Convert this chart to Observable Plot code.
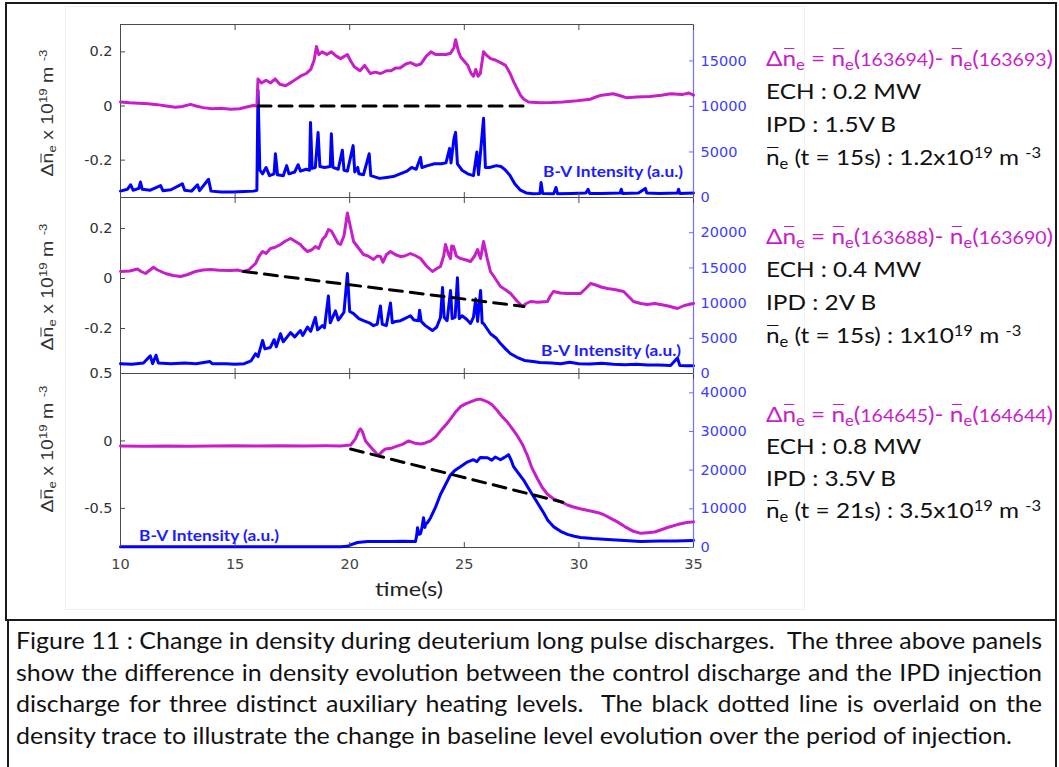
<!DOCTYPE html>
<html><head><meta charset="utf-8">
<script src="https://cdn.jsdelivr.net/npm/d3@7"></script>
<script src="https://cdn.jsdelivr.net/npm/@observablehq/plot@0.6"></script>
<style>
body{margin:0;background:#fff;}
#fig{position:relative;width:1059px;height:767px;overflow:hidden;background:#fff;font-family:Lato,sans-serif;}
.abs{position:absolute;white-space:nowrap;line-height:1;}
.box{position:absolute;box-sizing:border-box;}
sub{font-size:0.68em;line-height:0;vertical-align:-0.28em;}
sup{font-size:0.68em;line-height:0;vertical-align:0.5em;}
.ov{position:relative;}
.ov::before{content:"";position:absolute;left:0.06em;right:0.06em;top:0.16em;border-top:0.075em solid currentColor;}
.small{font-size:0.8em;}
.ann{position:absolute;left:766px;font-size:21.5px;color:#111;white-space:nowrap;line-height:1;transform-origin:left top;}
.mag{color:#c81ec8;}
.bv{position:absolute;font-weight:700;color:#1c1cff;font-size:15.5px;white-space:nowrap;line-height:1;transform-origin:left top;}
.ylab{position:absolute;font-family:"Liberation Sans",Arial,sans-serif;font-size:17px;color:#333;white-space:nowrap;line-height:1;}
.cap{position:absolute;left:16px;color:#111;white-space:pre;line-height:1;transform-origin:left top;}
.just{text-align:justify;text-align-last:justify;}
</style></head><body><div id="fig"></div>
<script>
// ---------- shared axis data ----------
const timeDomain = [10, 35];
const xTicks = [10, 15, 20, 25, 30, 35];

// ---------- panel 1 ----------
const p1LeftDomain = [-0.338, 0.301];
const p1RightDomain = [0, 19000];
const p1LeftTicks = [-0.2, 0, 0.2];
const p1RightTicks = [0, 5000, 10000, 15000];
const p1Density = [[10.0,0.015],[10.4,0.012],[10.8,0.010],[11.2,0.008],[11.6,0.005],[12.0,0.000],[12.4,-0.005],[12.7,-0.002],[13.05,0.006],[13.3,0.000],[13.6,-0.006],[14.0,-0.010],[14.4,-0.008],[14.8,-0.012],[15.2,-0.010],[15.5,-0.004],[15.8,0.002],[15.95,0.000],[16.0,0.10],[16.15,0.085],[16.35,0.095],[16.55,0.085],[16.75,0.10],[16.95,0.08],[17.2,0.075],[17.5,0.09],[17.85,0.11],[18.1,0.12],[18.3,0.135],[18.45,0.17],[18.55,0.22],[18.65,0.19],[18.8,0.20],[19.0,0.19],[19.2,0.20],[19.4,0.185],[19.6,0.175],[19.9,0.19],[20.05,0.165],[20.2,0.145],[20.45,0.13],[20.65,0.15],[20.9,0.12],[21.1,0.125],[21.35,0.12],[21.6,0.13],[21.8,0.13],[22.0,0.14],[22.2,0.14],[22.45,0.155],[22.65,0.16],[22.9,0.15],[23.1,0.155],[23.35,0.185],[23.55,0.20],[23.75,0.19],[23.95,0.19],[24.2,0.19],[24.4,0.195],[24.55,0.215],[24.62,0.245],[24.75,0.20],[24.85,0.18],[25.0,0.165],[25.15,0.15],[25.3,0.12],[25.4,0.11],[25.5,0.135],[25.6,0.11],[25.7,0.12],[25.84,0.20],[26.0,0.185],[26.15,0.175],[26.35,0.17],[26.58,0.16],[26.8,0.15],[27.0,0.12],[27.15,0.09],[27.3,0.065],[27.45,0.04],[27.6,0.025],[27.8,0.015],[28.3,0.012],[28.8,0.013],[29.3,0.015],[29.8,0.018],[30.2,0.022],[30.5,0.025],[30.8,0.035],[31.0,0.04],[31.5,0.045],[31.8,0.038],[32.1,0.03],[32.5,0.033],[33.1,0.035],[33.6,0.04],[34.0,0.045],[34.5,0.042],[34.8,0.048],[35.0,0.04]];
const p1Intensity = [[10.0,700],[10.3,900],[10.44,1400],[10.55,800],[10.8,1000],[10.87,1700],[10.95,900],[11.3,800],[11.75,1300],[11.85,750],[12.2,850],[12.7,1500],[12.8,800],[13.1,700],[13.36,1400],[13.45,750],[13.84,2000],[13.95,700],[14.4,600],[14.9,600],[15.4,650],[15.8,700],[15.95,800],[16.0,11800],[16.08,3000],[16.2,2600],[16.35,3300],[16.5,2400],[16.7,2600],[16.76,4800],[16.85,2500],[17.1,2400],[17.25,3500],[17.35,2600],[17.6,2800],[17.75,3600],[17.85,2900],[18.1,3100],[18.25,3000],[18.29,8250],[18.36,3200],[18.5,3300],[18.62,7150],[18.7,3400],[18.9,3300],[19.15,3400],[19.2,7000],[19.27,3300],[19.5,3100],[19.68,5200],[19.75,3000],[19.9,2900],[20.15,5700],[20.22,2800],[20.35,3300],[20.4,2600],[20.6,2500],[20.85,4800],[20.92,2400],[21.3,2100],[21.6,2200],[21.9,2300],[22.2,2600],[22.5,2900],[22.7,3300],[22.9,3100],[23.09,4400],[23.15,3300],[23.4,3500],[23.7,3700],[24.0,3700],[24.2,3800],[24.36,5400],[24.42,3800],[24.55,6500],[24.62,7150],[24.7,3700],[24.9,3000],[25.15,2600],[25.4,2400],[25.55,5000],[25.62,2500],[25.84,8700],[25.92,3300],[26.1,3300],[26.4,3500],[26.6,3400],[26.8,3000],[27.0,2400],[27.2,1500],[27.45,800],[27.7,500],[28.0,400],[28.3,450],[28.35,1650],[28.42,450],[28.9,400],[29.0,1100],[29.07,400],[29.7,450],[30.3,500],[30.4,900],[30.47,450],[31.0,450],[31.8,500],[31.85,900],[31.9,450],[32.6,500],[32.9,1000],[32.96,500],[33.5,450],[34.3,500],[34.35,900],[34.4,450],[35.0,500]];
const p1Baseline = [[16.0,0.0],[27.6,0.0]];

// ---------- panel 2 ----------
const p2LeftDomain = [-0.38, 0.324];
const p2RightDomain = [0, 25000];
const p2LeftTicks = [-0.2, 0, 0.2];
const p2RightTicks = [0, 5000, 10000, 15000, 20000];
const p2Density = [[10.0,0.028],[10.4,0.03],[10.74,0.038],[10.9,0.028],[11.09,0.02],[11.3,0.035],[11.44,0.045],[11.6,0.035],[11.96,0.02],[12.3,0.012],[12.62,0.008],[12.9,0.015],[13.27,0.028],[13.6,0.034],[13.93,0.036],[14.3,0.033],[14.8,0.032],[15.1,0.034],[15.37,0.028],[15.6,0.035],[15.89,0.06],[16.05,0.09],[16.2,0.108],[16.35,0.10],[16.54,0.12],[16.75,0.125],[16.98,0.136],[17.2,0.15],[17.42,0.16],[17.6,0.15],[17.85,0.136],[18.0,0.12],[18.16,0.108],[18.35,0.115],[18.5,0.128],[18.65,0.12],[18.81,0.156],[18.95,0.17],[19.07,0.196],[19.2,0.19],[19.38,0.16],[19.5,0.14],[19.6,0.136],[19.75,0.17],[19.9,0.262],[20.0,0.22],[20.17,0.148],[20.4,0.12],[20.6,0.096],[20.8,0.09],[21.04,0.076],[21.2,0.09],[21.34,0.088],[21.45,0.065],[21.6,0.095],[21.78,0.108],[22.0,0.095],[22.22,0.088],[22.4,0.09],[22.65,0.10],[22.9,0.09],[23.09,0.08],[23.35,0.05],[23.61,0.028],[23.8,0.04],[23.96,0.048],[24.1,0.09],[24.18,0.136],[24.3,0.1],[24.4,0.08],[24.45,0.13],[24.53,0.128],[24.65,0.09],[24.83,0.08],[25.05,0.075],[25.27,0.068],[25.45,0.09],[25.58,0.116],[25.71,0.08],[25.84,0.148],[26.0,0.08],[26.14,0.028],[26.35,0.0],[26.58,-0.032],[26.8,-0.045],[27.02,-0.06],[27.3,-0.09],[27.54,-0.112],[27.7,-0.1],[27.89,-0.092],[28.2,-0.095],[28.63,-0.092],[28.75,-0.07],[28.89,-0.052],[29.2,-0.058],[29.5,-0.06],[29.8,-0.06],[30.07,-0.06],[30.3,-0.04],[30.51,-0.02],[30.7,-0.025],[31.0,-0.035],[31.25,-0.04],[31.6,-0.045],[31.95,-0.052],[32.2,-0.075],[32.38,-0.092],[32.7,-0.1],[32.99,-0.104],[33.3,-0.1],[33.56,-0.104],[33.9,-0.11],[34.3,-0.12],[34.6,-0.108],[35.0,-0.1]];
const p2Intensity = [[10.0,1400],[10.5,1300],[11.0,1500],[11.3,2500],[11.4,1400],[11.55,2600],[11.65,1500],[12.2,1400],[12.8,1500],[13.3,1400],[13.9,1700],[14.0,1400],[14.6,1400],[15.0,1300],[15.4,1400],[15.7,1800],[15.89,2800],[16.0,2400],[16.2,4700],[16.3,3500],[16.54,3700],[16.7,4800],[16.8,3800],[16.98,5650],[17.1,4500],[17.42,5800],[17.6,5200],[17.85,6100],[17.95,5400],[18.16,6600],[18.3,6000],[18.5,7950],[18.6,6200],[18.81,6800],[18.9,6500],[19.07,11000],[19.15,7200],[19.38,8900],[19.5,7600],[19.6,8000],[19.75,8700],[19.9,14200],[20.0,8800],[20.17,8500],[20.4,7800],[20.6,7500],[20.85,7200],[21.04,6800],[21.2,7000],[21.34,9600],[21.42,7000],[21.6,6800],[21.78,10000],[21.86,7200],[22.0,7400],[22.22,7500],[22.4,7800],[22.65,8200],[22.8,7600],[23.0,7500],[23.05,9000],[23.12,7400],[23.3,6800],[23.61,6100],[23.8,6600],[23.96,7950],[24.05,12200],[24.12,8000],[24.25,7500],[24.4,11800],[24.47,7800],[24.6,8000],[24.7,13600],[24.78,7800],[24.9,8200],[25.1,7700],[25.27,7100],[25.4,8000],[25.5,10600],[25.58,7400],[25.71,11800],[25.78,7200],[25.84,7100],[26.14,5650],[26.4,5000],[26.58,4250],[26.8,3500],[27.02,2800],[27.3,2300],[27.62,1850],[28.0,1700],[28.3,1550],[28.8,1500],[29.2,1400],[29.6,1600],[30.0,1400],[30.5,1350],[31.0,1450],[31.5,1300],[32.0,1250],[32.5,1300],[33.0,1200],[33.5,1200],[34.0,1150],[34.3,2200],[34.4,1150],[34.7,1100],[35.0,1100]];
const p2Baseline = [[15.37,0.028],[27.6,-0.112]];

// ---------- panel 3 ----------
const p3LeftDomain = [-0.79, 0.5];
const p3RightDomain = [0, 45000];
const p3LeftTicks = [-0.5, 0, 0.5];
const p3RightTicks = [0, 10000, 20000, 30000, 40000];
const p3Density = [[10.0,-0.037],[11.0,-0.04],[12.0,-0.037],[13.0,-0.04],[14.0,-0.037],[15.0,-0.035],[16.0,-0.037],[17.0,-0.035],[18.0,-0.037],[19.0,-0.036],[19.6,-0.037],[20.04,-0.03],[20.25,0.015],[20.4,0.075],[20.47,0.09],[20.55,0.07],[20.69,0.0],[20.99,-0.06],[21.26,-0.11],[21.4,-0.08],[21.56,-0.06],[21.8,-0.055],[22.09,-0.037],[22.3,-0.025],[22.57,0.0],[22.8,-0.015],[23.09,-0.022],[23.3,-0.015],[23.53,0.0],[23.75,0.03],[23.96,0.075],[24.2,0.12],[24.4,0.164],[24.6,0.21],[24.83,0.254],[25.05,0.275],[25.27,0.29],[25.5,0.305],[25.71,0.31],[26.01,0.29],[26.2,0.27],[26.45,0.224],[26.65,0.18],[26.88,0.14],[27.1,0.09],[27.32,0.037],[27.55,-0.03],[27.76,-0.11],[27.95,-0.2],[28.19,-0.28],[28.4,-0.345],[28.63,-0.395],[28.9,-0.43],[29.2,-0.45],[29.5,-0.475],[29.76,-0.49],[30.1,-0.505],[30.51,-0.52],[30.8,-0.53],[31.07,-0.545],[31.35,-0.57],[31.68,-0.6],[32.0,-0.635],[32.38,-0.67],[32.7,-0.685],[32.99,-0.68],[33.3,-0.675],[33.56,-0.66],[33.9,-0.64],[34.3,-0.62],[34.7,-0.605],[35.0,-0.6]];
const p3Intensity = [[10.0,200],[12.0,200],[14.0,200],[16.0,200],[18.0,200],[19.6,200],[19.9,300],[20.1,800],[20.34,1300],[20.78,1550],[21.3,1550],[21.78,1550],[22.3,1600],[22.87,1550],[22.92,3000],[22.96,5100],[23.02,3400],[23.09,3600],[23.15,5000],[23.22,7700],[23.28,5200],[23.31,6000],[23.4,6500],[23.53,7700],[23.75,10500],[23.96,13700],[24.2,16500],[24.4,18800],[24.6,20000],[24.83,20900],[25.1,22000],[25.4,22700],[25.55,22200],[25.7,23300],[26.01,23200],[26.2,22600],[26.35,23400],[26.58,22700],[26.75,23300],[26.93,24000],[27.05,22500],[27.15,20900],[27.35,19300],[27.58,17500],[27.8,15300],[28.02,13200],[28.25,11000],[28.46,9000],[28.65,7000],[28.89,5400],[29.2,4200],[29.5,3400],[29.8,2900],[30.07,2600],[30.6,2300],[31.25,2100],[32.0,1800],[32.69,1550],[33.5,1650],[34.2,1700],[35.0,1800]];
const p3Baseline = [[20.04,-0.06],[29.3,-0.455]];

// ---------- annotation texts ----------
const shots = [["163694","163693"],["163688","163690"],["164645","164644"]];
const ech = ["0.2 MW","0.4 MW","0.8 MW"];
const ipd = ["1.5V B","2V B","3.5V B"];
const neRef = [["15s","1.2"],["15s","1"],["21s","3.5"]];
const captionLines = [
  "Figure 11 : Change in density during deuterium long pulse discharges.  The three above panels",
  "show the difference in density evolution between the control discharge and the IPD injection",
  "discharge for three distinct auxiliary heating levels.  The black dotted line is overlaid on the",
  "density trace to illustrate the change in baseline level evolution over the period of injection."
];

// ---------- styling / layout ----------
const MAG = "#c81ec8", BLUE = "#0000ff", AXBLUE = "#7070ff", LBLUE = "#3c3cff", GREY = "#4a4a4a";
const X0 = 120, X1 = 693, SVGW = 760;
const fig = document.getElementById("fig");
const fmt = d => String(d);

const panels = [
  {top:24, bottom:197, left:p1LeftDomain, right:p1RightDomain, lt:p1LeftTicks, rt:p1RightTicks, dens:p1Density, inten:p1Intensity, base:p1Baseline, last:false},
  {top:197, bottom:373, left:p2LeftDomain, right:p2RightDomain, lt:p2LeftTicks, rt:p2RightTicks, dens:p2Density, inten:p2Intensity, base:p2Baseline, last:false},
  {top:373, bottom:547, left:p3LeftDomain, right:p3RightDomain, lt:p3LeftTicks, rt:p3RightTicks, dens:p3Density, inten:p3Intensity, base:p3Baseline, last:true}
];

function place(svg, top) {
  svg.style.position = "absolute";
  svg.style.left = "0px";
  svg.style.top = top + "px";
  fig.appendChild(svg);
}
function box(l, t, w, h, css) {
  const d = document.createElement("div");
  d.className = "box";
  Object.assign(d.style, {left:l+"px", top:t+"px", width:w+"px", height:h+"px"}, css);
  fig.appendChild(d);
}
box(65, 6, 740, 604, {border:"1px solid #f0f0f0"});

for (const p of panels) {
  const mt = 20, mb = p.last ? 50 : 20;
  const common = {
    width: SVGW, height: p.bottom - p.top + mt + mb,
    marginLeft: X0, marginRight: SVGW - X1, marginTop: mt, marginBottom: mb,
    x: {domain: timeDomain, axis: null},
    style: {background: "transparent", overflow: "visible", fontFamily: "DejaVu Sans", fontSize: "14.5px"}
  };
  const back = Plot.plot({
    ...common,
    y: {domain: p.right, axis: null},
    marks: [
      Plot.frame({stroke: GREY, strokeWidth: 1}),
      Plot.line(p.inten, {x: d => d[0], y: d => d[1], stroke: BLUE, strokeWidth: 3, strokeLinejoin: "round"}),
      Plot.axisY(p.rt, {anchor: "right", tickSize: 5, dx: -5, fill: "none", stroke: AXBLUE, label: null}),
      Plot.axisY(p.rt, {anchor: "right", tickSize: 0, tickPadding: 7, fill: LBLUE, tickFormat: fmt, label: null}),
      Plot.ruleX([timeDomain[1]], {stroke: AXBLUE, strokeWidth: 1.2})
    ]
  });
  place(back, p.top - mt);
  const front = Plot.plot({
    ...common,
    y: {domain: p.left, axis: null},
    marks: [
      Plot.line(p.dens, {x: d => d[0], y: d => d[1], stroke: MAG, strokeWidth: 3, strokeLinejoin: "round"}),
      Plot.line(p.base, {x: d => d[0], y: d => d[1], stroke: "#000", strokeWidth: 3, strokeDasharray: "13,8"}),
      Plot.axisY(p.lt, {anchor: "left", tickSize: 5, dx: 5, fill: "none", stroke: GREY, label: null}),
      Plot.axisY(p.lt, {anchor: "left", tickSize: 0, tickPadding: 8, fill: "#333", tickFormat: fmt, label: null}),
      Plot.axisX(xTicks, {anchor: "top", tickSize: 5, dy: 5, fill: "none", stroke: GREY, label: null}),
      Plot.axisX(xTicks, {anchor: "bottom", tickSize: 5, dy: -5, fill: "none", stroke: GREY, label: null}),
      p.last ? Plot.axisX(xTicks, {anchor: "bottom", tickSize: 0, tickPadding: 11, fill: "#444", tickFormat: fmt, label: null}) : null
    ]
  });
  place(front, p.top - mt);
}

// ---------- html text ----------
function html(cls, css, inner) {
  const d = document.createElement("div");
  d.className = cls;
  Object.assign(d.style, css);
  d.innerHTML = inner;
  fig.appendChild(d);
  return d;
}
const NB = '<span class="ov">n</span>';

// y-axis titles (stretched along their length to the reference's ~127px)
const ylabCenters = [113, 287, 449];
for (const cy of ylabCenters) {
  const el = html("ylab", {left: "47px", top: cy + "px"},
    `Δ${NB}<sub>e</sub> x 10<sup>19</sup> m <sup>-3</sup>`);
  const w = el.offsetWidth;
  el.style.transform = `translate(-50%,-50%) rotate(-90deg) scaleX(${127 / w})`;
}

// B-V labels
const bvPos = [[543, 164], [541, 343], [139, 528]];
const bvEls = bvPos.map(([x, y]) => html("bv", {left: x + "px", top: y + "px"}, "B-V Intensity (a.u.)"));

// time label
const tl = html("abs", {left: "375px", top: "578px", fontSize: "20px", color: "#222", transformOrigin: "left top"}, "time(s)");

function fitX(el, w) {
  const r = el.getBoundingClientRect().width;
  el.style.transformOrigin = "left top";
  el.style.transform = `scaleX(${w / r})`;
}
bvEls.forEach(e => fitX(e, 140));
fitX(tl, 68);

// annotations
const annBase = [67, 245, 423];
const annStep = [33, 33, 32];
const annEls = [];
annBase.forEach((b, i) => {
  const lines = [
    `<span class="mag">Δ${NB}<sub>e</sub> = ${NB}<sub>e</sub>(<span class="small">${shots[i][0]}</span>)- ${NB}<sub>e</sub>(<span class="small">${shots[i][1]}</span>)</span>`,
    `ECH : ${ech[i]}`,
    `IPD : ${ipd[i]}`,
    `${NB}<sub>e</sub> (t = ${neRef[i][0]}) : ${neRef[i][1]}x10<sup>19</sup> m <sup>-3</sup>`
  ];
  lines.forEach((s, j) => {
    const top = b + j * annStep[i] - 0.887 * 21.5;
    annEls.push(html("ann", {top: top + "px"}, s));
  });
});
// first line spans 766 -> 1053 in the reference
const sAnn = 287 / annEls[0].getBoundingClientRect().width;
annEls.forEach(e => { e.style.transform = `scaleX(${sAnn})`; });

// outer boxes
box(5, 2, 1052, 619, {border: "2px solid #1a1a1a"});
box(7, 619, 1050, 200, {border: "2px solid #1a1a1a"});

// caption: larger glyphs compressed horizontally (Calibri-like proportions)
const CAPFS = 22.5;
const capBase = [650, 682, 713, 745];
const capEls = captionLines.map((s, i) => {
  const el = html("cap", {top: (capBase[i] - 0.887 * CAPFS) + "px", fontSize: CAPFS + "px"}, "");
  el.textContent = s;
  return el;
});
const natW = capEls[3].getBoundingClientRect().width;
const sCap = 996 / natW;
capEls.forEach((el, i) => {
  if (i < 3) {
    el.classList.add("just");
    el.style.width = (1026 / sCap) + "px";
  }
  el.style.transform = `scaleX(${sCap})`;
});
</script></body></html>
